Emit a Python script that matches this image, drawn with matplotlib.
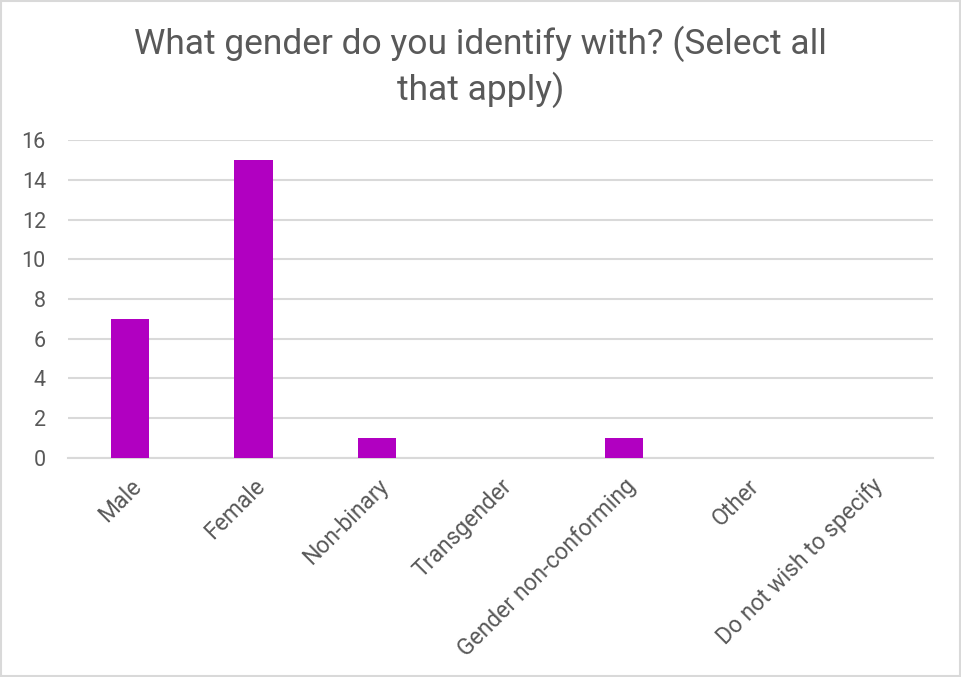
import matplotlib.pyplot as plt
from matplotlib.patches import Rectangle

# Survey counts per gender option
categories = ['Male', 'Female', 'Non-binary', 'Transgender',
              'Gender non-conforming', 'Other', 'Do not wish to specify']
counts = [7, 15, 1, 0, 1, 0, 0]
yticks = [0, 2, 4, 6, 8, 10, 12, 14, 16]

plt.rcParams['font.family'] = ['Roboto', 'DejaVu Sans']
text_color = '#595959'
grid_color = '#D9D9D9'

fig = plt.figure(figsize=(9.61, 6.77), dpi=100)
ax = fig.add_axes([0.0708, 0.3235, 0.9002, 0.4697])

x = range(len(categories))
ax.bar(x, counts, width=0.31, color='#B100C1', zorder=3)

ax.set_xlim(-0.5, len(categories) - 0.5)
ax.set_ylim(0, 16)
ax.set_yticks(yticks)
ax.set_yticklabels([str(v) for v in yticks], fontsize=15.5, color=text_color)
ax.set_xticks(list(x))
ax.set_xticklabels(categories, rotation=45, ha='right', rotation_mode='anchor',
                   fontsize=16.5, color=text_color)
ax.tick_params(axis='both', length=0)
ax.tick_params(axis='y', pad=16)
ax.tick_params(axis='x', pad=12)

ax.grid(axis='y', color=grid_color, linewidth=1.5, zorder=0)
for side in ['top', 'right', 'left']:
    ax.spines[side].set_visible(False)
ax.spines['bottom'].set_color(grid_color)
ax.spines['bottom'].set_linewidth(1.5)

fig.text(0.5, 0.962, 'What gender do you identify with? (Select all\nthat apply)',
         ha='center', va='top', fontsize=25.5, color=text_color, linespacing=1.32)

# light border around the chart area
fig.patches.append(Rectangle((0.001, 0.001), 0.998, 0.998, transform=fig.transFigure,
                             fill=False, edgecolor=grid_color, linewidth=1.5))

plt.savefig('out.png', dpi=100)
plt.close()
